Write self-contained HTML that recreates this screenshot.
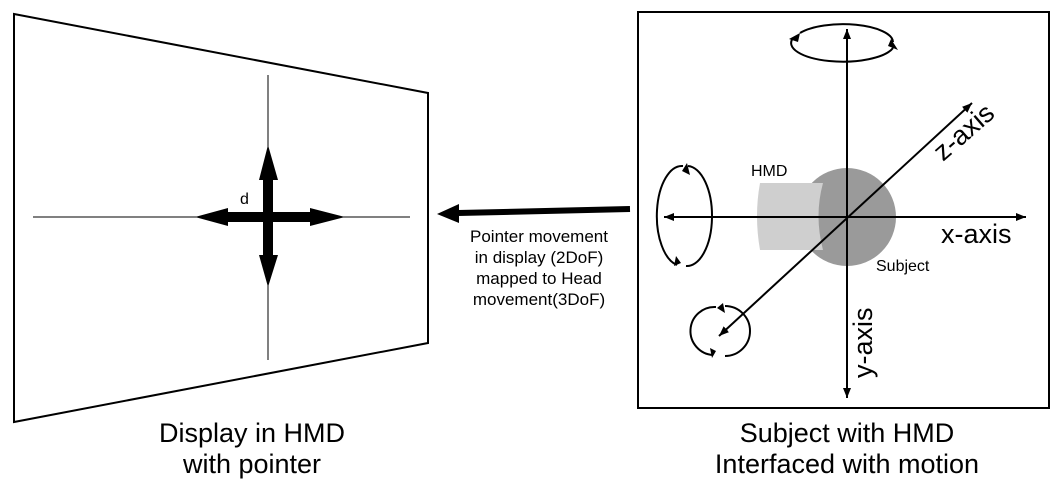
<!DOCTYPE html>
<html><head><meta charset="utf-8"><style>
html,body{margin:0;padding:0;background:#fff;}
svg{display:block;font-family:"Liberation Sans",Arial,sans-serif;}
</style></head><body>
<svg width="1062" height="483" viewBox="0 0 1062 483">
<defs>
<marker id="ah" viewBox="0 0 10 10" refX="10" refY="5" markerWidth="10" markerHeight="10" orient="auto-start-reverse" markerUnits="userSpaceOnUse"><path d="M0,1 L10,5 L0,9 z" fill="#000"/></marker>
</defs>
<g>
<polygon points="14,14 428,93 428,343 14,422" fill="#fff" stroke="#000" stroke-width="2"/>
<line x1="33" y1="217" x2="410" y2="217" stroke="#000" stroke-width="1"/>
<line x1="268" y1="75" x2="268" y2="360" stroke="#000" stroke-width="1"/>
<path fill="#000" d="M195,217 L228,208 L228,212 L263,212 L263,180 L259,180 L268,145 L278,180 L273,180 L273,212 L310,212 L310,208 L345,217 L310,226 L310,222 L273,222 L273,255 L278,255 L268,287 L259,255 L263,255 L263,222 L228,222 L228,226 Z"/>
<text x="240" y="204" font-size="16">d</text>
</g>
<g>
<line x1="630" y1="209" x2="458" y2="213" stroke="#000" stroke-width="6"/>
<path d="M437,214 L459,204 L459,223 Z" fill="#000"/>
</g>
<g font-size="17" text-anchor="middle">
<text x="539" y="242">Pointer movement</text>
<text x="539" y="263">in display (2DoF)</text>
<text x="539" y="284">mapped to Head</text>
<text x="539" y="305">movement(3DoF)</text>
</g>
<g>
<rect x="638" y="12" width="411" height="396" fill="#fff" stroke="#000" stroke-width="2"/>
<circle cx="847" cy="217" r="49" fill="#9a9a9a"/>
<path d="M760,183 L823,183 Q814,216 823,250 L760,250 Q754,216 760,183 Z" fill="#cfcfcf"/>
<line x1="847" y1="398" x2="847" y2="29" stroke="#000" stroke-width="2" marker-start="url(#ah)" marker-end="url(#ah)"/>
<line x1="664" y1="217" x2="1026" y2="217" stroke="#000" stroke-width="2" marker-start="url(#ah)" marker-end="url(#ah)"/>
<line x1="719" y1="336" x2="972" y2="103" stroke="#000" stroke-width="2" marker-start="url(#ah)" marker-end="url(#ah)"/>
<path d="M793,38 A50,18 0 0 0 893,48 M893,42 A50,18 0 0 0 800,33" fill="none" stroke="#000" stroke-width="2"/>
<path d="M789,39 L800,33 L798,42 Z M898,50 L888,46 L891,39 Z" fill="#000"/>
<path d="M688,166 A25,50 0 0 1 686,266 M677,265 A25,50 0 0 1 683,166" fill="none" stroke="#000" stroke-width="2"/>
<path d="M687,163 L690,175 L682,171 Z M674,266 L676,256 L681,263 Z" fill="#000"/>
<path d="M725,306 A22,22 0 0 1 725,356 M713,355 A22,22 0 0 1 716,307" fill="none" stroke="#000" stroke-width="2"/>
<path d="M723,303 L725,313 L717,308 Z M712,358 L710,348 L716,351 Z" fill="#000"/>
<text x="751" y="176" font-size="16">HMD</text>
<text x="876" y="271" font-size="16">Subject</text>
<text x="941" y="243" font-size="27">x-axis</text>
<text transform="translate(872,378) rotate(-90)" font-size="27">y-axis</text>
<text transform="translate(943,162) rotate(-41)" font-size="27">z-axis</text>
</g>
<g font-size="27" text-anchor="middle">
<text x="252" y="442">Display in HMD</text>
<text x="252" y="473">with pointer</text>
<text x="847" y="442">Subject with HMD</text>
<text x="847" y="473">Interfaced with motion</text>
</g>
</svg>
</body></html>
